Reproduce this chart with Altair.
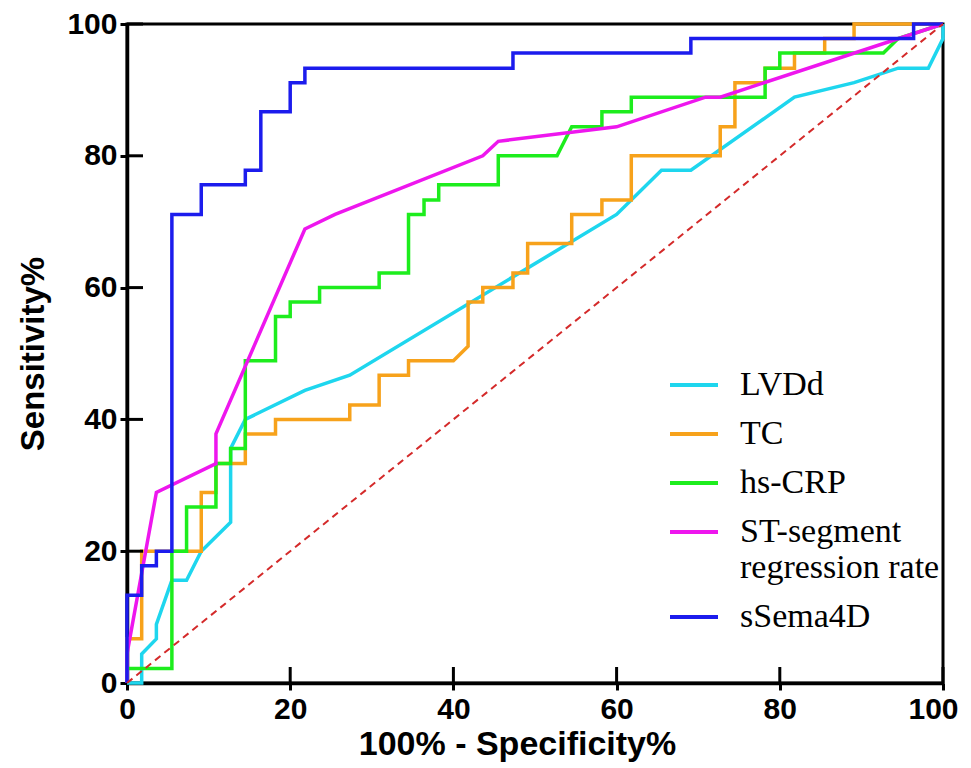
import altair as alt
import pandas as pd

# ---------------- data ----------------
series_names = ["LVDd", "TC", "hs-CRP", "ST-segment regression rate", "sSema4D"]
series_colors = ["#1ed6ee", "#f7a21b", "#1ded1d", "#ee16ee", "#1c1ced"]

lvdd_fpr = [0, 1.8, 1.8, 3.6, 3.6, 5.5, 7.3, 9.1, 12.7, 12.7, 14.5, 21.8, 27.3, 60, 65.5, 69.1, 81.8, 89.1, 94.5, 98.2, 100, 100]
lvdd_tpr = [0, 0, 4.4, 6.7, 8.9, 15.6, 15.6, 20, 24.4, 35.6, 40, 44.4, 46.7, 71.1, 77.8, 77.8, 88.9, 91.1, 93.3, 93.3, 97.8, 100]

tc_fpr = [0, 0, 1.8, 1.8, 9.1, 9.1, 10.9, 10.9, 14.5, 14.5, 18.2, 18.2, 27.3, 27.3, 30.9, 30.9, 34.5, 34.5, 40, 41.8, 41.8,
          43.6, 43.6, 47.3, 47.3, 49.1, 49.1, 54.5, 54.5, 58.2, 58.2, 61.8, 61.8, 72.7, 72.7, 74.5, 74.5, 78.2, 78.2,
          81.8, 81.8, 85.5, 85.5, 89.1, 89.1, 100]
tc_tpr = [0, 6.7, 6.7, 20, 20, 28.9, 28.9, 33.3, 33.3, 37.8, 37.8, 40, 40, 42.2, 42.2, 46.7, 46.7, 48.9, 48.9, 51.1, 57.8,
          57.8, 60, 60, 62.2, 62.2, 66.7, 66.7, 71.1, 71.1, 73.3, 73.3, 80, 80, 84.4, 84.4, 91.1, 91.1, 93.3,
          93.3, 95.6, 95.6, 97.8, 97.8, 100, 100]

crp_fpr = [0, 0, 5.5, 5.5, 7.3, 7.3, 10.9, 10.9, 12.7, 12.7, 14.5, 14.5, 18.2, 18.2, 20, 20, 23.6, 23.6, 30.9, 30.9,
           34.5, 34.5, 36.4, 36.4, 38.2, 38.2, 45.5, 45.5, 52.7, 54.5, 58.2, 58.2, 61.8, 61.8, 78.2, 78.2, 80, 80,
           92.7, 94.5, 100]
crp_tpr = [0, 2.2, 2.2, 20, 20, 26.7, 26.7, 33.3, 33.3, 35.6, 35.6, 48.9, 48.9, 55.6, 55.6, 57.8, 57.8, 60, 60, 62.2,
           62.2, 71.1, 71.1, 73.3, 73.3, 75.6, 75.6, 80, 80, 84.4, 84.4, 86.7, 86.7, 88.9, 88.9, 93.3, 93.3, 95.6,
           95.6, 97.8, 100]

st_fpr = [0, 0, 3.6, 10.9, 10.9, 21.8, 25.5, 43.6, 45.5, 60, 70.9, 72.7, 100]
st_tpr = [0, 4.4, 28.9, 33.3, 37.8, 68.9, 71.1, 80, 82.2, 84.4, 88.9, 88.9, 100]

sema_fpr = [0, 0, 1.8, 1.8, 3.6, 3.6, 5.5, 5.5, 9.1, 9.1, 14.5, 14.5, 16.4, 16.4, 20, 20, 21.8, 21.8, 47.3, 47.3,
            69.1, 69.1, 96.4, 96.4, 100]
sema_tpr = [0, 13.3, 13.3, 17.8, 17.8, 20, 20, 71.1, 71.1, 75.6, 75.6, 77.8, 77.8, 86.7, 86.7, 91.1, 91.1, 93.3, 93.3,
            95.6, 95.6, 97.8, 97.8, 100, 100]

ref_fpr = [0, 100]
ref_tpr = [0, 100]

tick_values = [0, 20, 40, 60, 80, 100]

# ---------------- tables ----------------
all_fpr = [lvdd_fpr, tc_fpr, crp_fpr, st_fpr, sema_fpr]
all_tpr = [lvdd_tpr, tc_tpr, crp_tpr, st_tpr, sema_tpr]
rows = []
for name, xs, ys in zip(series_names, all_fpr, all_tpr):
    for i, (a, b) in enumerate(zip(xs, ys)):
        rows.append({"series": name, "fpr": a, "tpr": b, "order": i})
df = pd.DataFrame(rows)
ref_df = pd.DataFrame({"fpr": ref_fpr, "tpr": ref_tpr})
xt_df = pd.DataFrame({"fpr": tick_values[1:]})
yt_df = pd.DataFrame({"tpr": tick_values[1:]})

W, H = 816, 659
SANS = "Liberation Sans"
xscale = alt.Scale(domain=[0, 100], nice=False, zero=False)
yscale = alt.Scale(domain=[0, 100], nice=False, zero=False)

axis_common = dict(
    values=tick_values, grid=False,
    labelFont=SANS, labelFontSize=30, labelFontWeight="bold", labelColor="black",
    titleFont=SANS, titleFontWeight="bold", titleColor="black",
    tickSize=7, tickWidth=3, tickColor="black",
    domainColor="black", domainWidth=3.5,
    labelOverlap=False, labelFlush=False,
)
x_axis = alt.Axis(title="100% - Specificity%", labelPadding=4, titlePadding=3,
                  titleFontSize=34, titleX=390, titleAlign="center",
                  labelOffset={"condition": {"test": "datum.value == 100", "value": -10}, "value": 0},
                  **axis_common)
y_axis = alt.Axis(title="Sensitivity%", labelPadding=3, titlePadding=16,
                  titleFontSize=33, **axis_common)


def xenc():
    return alt.X("fpr:Q", scale=xscale, axis=x_axis)


def yenc():
    return alt.Y("tpr:Q", scale=yscale, axis=y_axis)


lines = alt.Chart(df).mark_line(strokeWidth=3.5, clip=False).encode(
    x=xenc(),
    y=yenc(),
    color=alt.Color(
        "series:N",
        sort=series_names,
        scale=alt.Scale(domain=series_names, range=series_colors),
        legend=alt.Legend(
            title=None, orient="none", legendX=541, legendY=335,
            symbolType="stroke", symbolSize=2304, symbolStrokeWidth=4,
            labelFont="Liberation Serif", labelFontSize=34, labelColor="black",
            labelOffset=20, rowPadding=6, padding=0, labelLimit=0,
            labelExpr="datum.label == 'ST-segment regression rate' ? ['ST-segment', 'regression rate'] : datum.label",
        ),
    ),
    order="order:Q",
)

ref = alt.Chart(ref_df).mark_line(color="#d42a2a", strokeWidth=2, strokeDash=[7, 5]).encode(
    x=xenc(),
    y=yenc(),
)

xticks = alt.Chart(xt_df).mark_rule(color="black", strokeWidth=3).encode(
    x=xenc(),
    y=alt.value(H), y2=alt.value(H - 16),
)
yticks = alt.Chart(yt_df).mark_rule(color="black", strokeWidth=3).encode(
    y=yenc(),
    x=alt.value(0), x2=alt.value(16),
)

chart = alt.layer(lines, ref, xticks, yticks).properties(
    width=W, height=H,
    autosize=alt.AutoSizeParams(type="none"),
    padding={"left": 119, "top": 16, "right": 20, "bottom": 84},
    background="white",
).configure_view(stroke="black", strokeWidth=3)

chart.save("out.html", embed_options={"renderer": "svg", "actions": False})
